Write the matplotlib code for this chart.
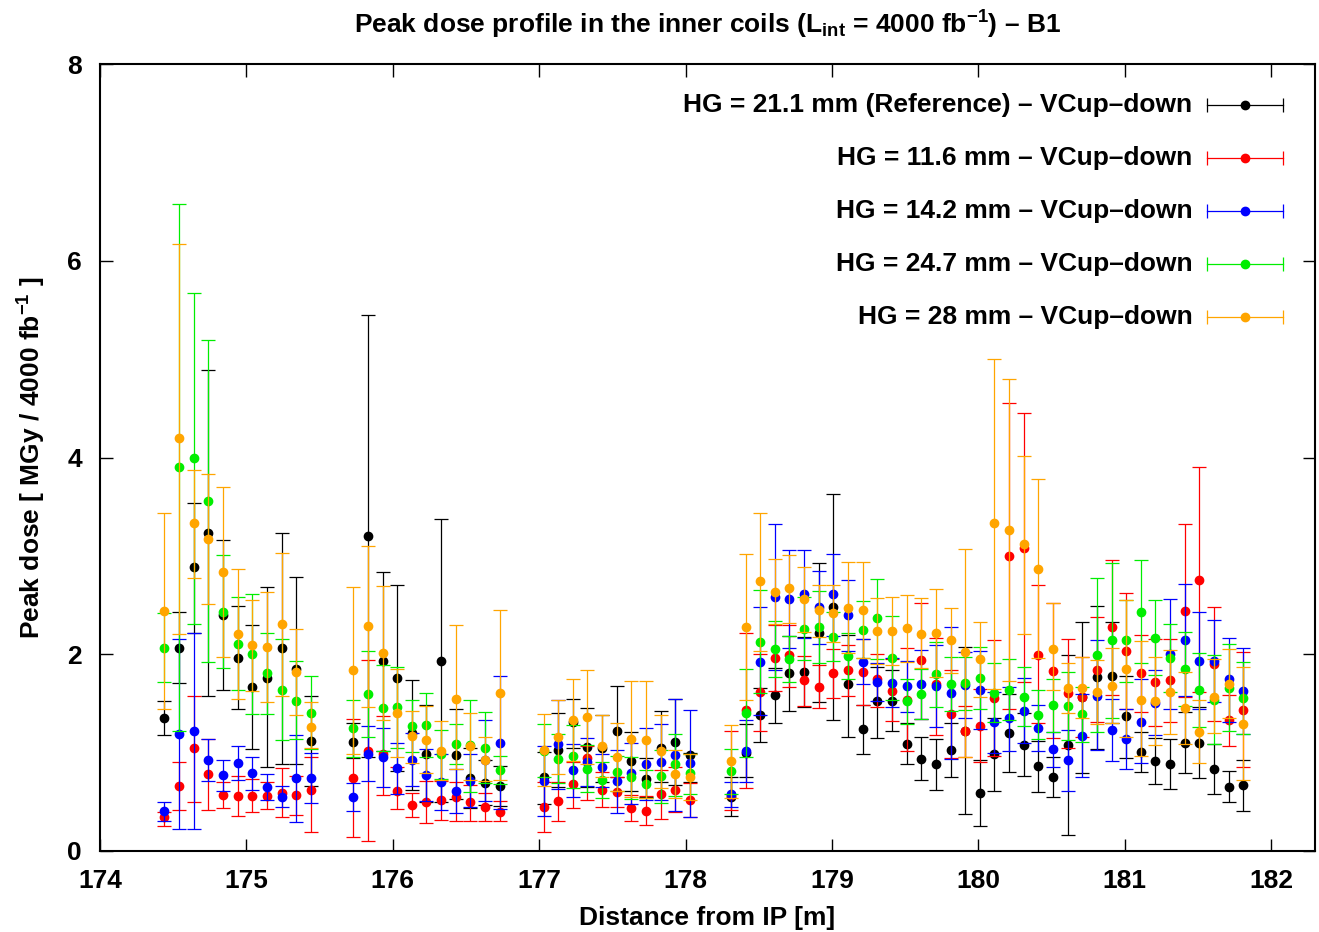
import numpy as np
import matplotlib
matplotlib.use("Agg")
import matplotlib.pyplot as plt

plt.rcParams['font.family'] = ['Liberation Sans', 'DejaVu Sans']
plt.rcParams['font.weight'] = 'bold'
plt.rcParams['mathtext.fontset'] = 'custom'
plt.rcParams['mathtext.rm'] = 'Liberation Sans:bold'
plt.rcParams['mathtext.bf'] = 'Liberation Sans:bold'
plt.rcParams['mathtext.it'] = 'Liberation Sans:bold'

# Distance from IP [m]
distance = [174.44, 174.54, 174.64, 174.74, 174.84, 174.94, 175.04, 175.14, 175.24, 175.34, 175.44,
            175.73, 175.83, 175.93, 176.03, 176.13, 176.23, 176.33, 176.43, 176.53, 176.63, 176.73,
            177.03, 177.13, 177.23, 177.33, 177.43, 177.53, 177.63, 177.73, 177.83, 177.93, 178.03,
            178.31, 178.41, 178.51, 178.61, 178.71, 178.81, 178.91, 179.01, 179.11, 179.21, 179.31, 179.41,
            179.51, 179.61, 179.71, 179.81, 179.91, 180.01, 180.11, 180.21, 180.31, 180.41, 180.51, 180.61,
            180.71, 180.81, 180.91, 181.01, 181.11, 181.21, 181.31, 181.41, 181.51, 181.61, 181.71, 181.81]

# HG = 21.1 mm (reference)
ref_val = [1.35, 2.06, 2.89, 3.23, 2.40, 1.96, 1.67, 1.76, 2.06, 1.85, 1.12,
           1.11, 3.20, 1.93, 1.76, 1.20, 0.99, 1.93, 0.98, 0.74, 0.69, 0.66,
           0.75, 1.03, 1.31, 1.06, 1.05, 1.22, 0.91, 0.73, 1.05, 1.11, 0.98,
           0.55, 1.00, 1.38, 1.59, 1.81, 1.82, 2.22, 2.48, 1.70, 1.24, 1.52, 1.52,
           1.09, 0.94, 0.88, 1.03, 1.22, 0.59, 0.99, 1.20, 1.08, 0.86, 0.75, 1.08,
           1.57, 1.77, 1.78, 1.37, 1.01, 0.91, 0.88, 1.10, 1.10, 0.83, 0.65, 0.67]
ref_lo = [1.18, 1.71, 2.22, 1.58, 1.64, 1.44, 1.04, 0.85, 0.88, 0.88, 0.66,
          0.95, 0.96, 1.02, 0.81, 0.62, 0.50, 0.50, 0.53, 0.44, 0.47, 0.46,
          0.48, 0.65, 1.05, 0.65, 0.70, 0.75, 0.61, 0.55, 0.70, 0.67, 0.70,
          0.36, 0.75, 1.11, 1.30, 1.42, 1.46, 1.51, 1.33, 1.16, 0.99, 1.15, 1.22,
          0.88, 0.72, 0.62, 0.75, 0.38, 0.25, 0.61, 0.80, 0.76, 0.60, 0.55, 0.16,
          0.79, 1.04, 1.30, 0.95, 0.80, 0.68, 0.63, 0.79, 0.74, 0.58, 0.50, 0.41]
ref_hi = [1.52, 2.43, 3.54, 4.89, 3.16, 2.49, 2.30, 2.68, 3.23, 2.79, 1.58,
          1.30, 5.45, 2.84, 2.70, 1.74, 1.48, 3.37, 1.44, 1.05, 0.92, 0.86,
          1.01, 1.40, 1.55, 1.45, 1.38, 1.68, 1.21, 0.95, 1.42, 1.55, 1.00,
          0.75, 1.29, 1.66, 1.86, 2.19, 2.18, 2.93, 3.63, 2.20, 1.48, 1.87, 1.84,
          1.30, 1.16, 1.14, 1.30, 2.07, 0.92, 1.35, 1.60, 1.40, 1.12, 0.96, 1.99,
          2.33, 2.49, 2.33, 1.78, 1.21, 1.15, 1.14, 1.41, 1.46, 1.09, 0.81, 0.93]

# HG = 11.6 mm
hg116_val = [0.35, 0.66, 1.05, 0.78, 0.57, 0.56, 0.56, 0.56, 0.59, 0.57, 0.62,
             0.74, 1.02, 0.99, 0.61, 0.47, 0.50, 0.52, 0.55, 0.50, 0.45, 0.40,
             0.45, 0.51, 0.68, 0.95, 0.62, 0.60, 0.44, 0.41, 0.58, 0.62, 0.52,
             0.57, 1.43, 1.62, 1.96, 1.99, 1.74, 1.67, 1.81, 1.84, 1.82, 1.75, 1.63,
             1.54, 1.94, 1.70, 1.39, 1.22, 1.27, 1.56, 3.00, 3.08, 1.99, 1.83, 1.61,
             1.57, 1.84, 2.28, 2.03, 1.81, 1.72, 1.74, 2.44, 2.75, 1.90, 1.33, 1.43]
hg116_lo = [0.25, 0.42, 0.50, 0.42, 0.44, 0.36, 0.40, 0.43, 0.35, 0.37, 0.19,
            0.14, 0.10, 0.57, 0.43, 0.35, 0.28, 0.32, 0.30, 0.31, 0.31, 0.30,
            0.19, 0.31, 0.44, 0.52, 0.45, 0.45, 0.30, 0.26, 0.33, 0.40, 0.35,
            0.42, 0.64, 1.22, 1.63, 1.67, 1.47, 1.45, 1.56, 1.58, 1.48, 1.46, 1.32,
            1.02, 1.34, 1.18, 0.95, 0.96, 0.90, 0.97, 1.44, 1.72, 1.30, 1.15, 1.05,
            1.16, 1.31, 1.59, 1.44, 1.41, 1.27, 1.31, 1.57, 1.62, 1.32, 1.07, 0.85]
hg116_hi = [0.40, 0.90, 1.58, 1.14, 0.70, 0.76, 0.73, 0.70, 0.84, 0.76, 0.96,
            1.34, 1.94, 1.37, 0.85, 0.59, 0.71, 0.71, 0.70, 0.67, 0.59, 0.51,
            0.70, 0.70, 0.90, 1.07, 0.80, 0.75, 0.57, 0.56, 0.82, 0.85, 0.69,
            1.22, 2.22, 2.00, 2.30, 2.30, 1.98, 1.89, 2.05, 2.09, 2.15, 2.00, 1.95,
            2.06, 2.52, 2.17, 1.84, 1.47, 1.65, 2.14, 4.55, 4.45, 2.70, 2.52, 2.16,
            1.97, 2.38, 2.96, 2.62, 2.20, 2.15, 2.16, 3.32, 3.90, 2.48, 1.59, 2.02]

# HG = 14.2 mm
hg142_val = [0.41, 1.19, 1.22, 0.92, 0.77, 0.89, 0.79, 0.65, 0.55, 0.74, 0.74,
             0.55, 0.99, 0.96, 0.84, 0.93, 0.77, 0.70, 0.61, 0.71, 0.92, 1.10,
             0.71, 1.09, 0.82, 0.90, 0.85, 0.71, 0.79, 0.88, 0.90, 0.98, 0.89,
             0.58, 1.02, 1.92, 2.58, 2.56, 2.61, 2.48, 2.61, 2.40, 1.92, 1.72, 1.71,
             1.68, 1.70, 1.68, 1.61, 1.69, 1.64, 1.31, 1.35, 1.42, 1.25, 1.04, 0.92,
             1.17, 1.58, 1.23, 1.14, 1.31, 1.50, 2.00, 2.14, 1.93, 1.93, 1.75, 1.63]
hg142_lo = [0.30, 0.22, 0.22, 0.71, 0.61, 0.72, 0.62, 0.52, 0.45, 0.29, 0.49,
            0.41, 0.71, 0.65, 0.58, 0.66, 0.51, 0.42, 0.39, 0.45, 0.51, 0.43,
            0.36, 0.63, 0.55, 0.66, 0.65, 0.39, 0.48, 0.52, 0.52, 0.41, 0.35,
            0.45, 0.70, 1.38, 1.84, 2.06, 2.17, 2.10, 2.19, 2.03, 1.70, 1.52, 1.46,
            1.41, 1.34, 1.26, 0.94, 1.35, 1.24, 1.00, 1.02, 1.10, 1.02, 0.85, 0.61,
            0.75, 1.03, 0.91, 0.83, 0.89, 1.18, 1.44, 1.58, 1.44, 1.51, 1.31, 1.19]
hg142_hi = [0.50, 2.16, 2.22, 1.14, 0.93, 1.07, 0.96, 0.78, 0.66, 1.18, 1.00,
            0.69, 1.27, 1.25, 1.10, 1.20, 1.04, 0.99, 0.83, 0.99, 1.33, 1.78,
            1.07, 1.54, 1.09, 1.15, 0.99, 1.03, 1.10, 1.25, 1.29, 1.55, 1.43,
            0.70, 1.33, 2.48, 3.32, 3.06, 3.06, 2.85, 3.02, 2.75, 2.15, 1.91, 1.96,
            1.93, 2.04, 2.09, 2.28, 2.02, 2.03, 1.62, 1.67, 1.76, 1.48, 1.21, 1.23,
            1.60, 2.14, 1.55, 1.44, 1.75, 1.84, 2.56, 2.71, 2.43, 2.35, 2.17, 2.06]

# HG = 24.7 mm
hg247_val = [2.06, 3.90, 3.99, 3.56, 2.43, 2.10, 2.00, 1.81, 1.64, 1.52, 1.40,
             1.25, 1.60, 1.45, 1.46, 1.27, 1.28, 0.99, 1.09, 1.08, 1.05, 0.82,
             1.02, 0.94, 0.97, 0.83, 0.72, 0.80, 0.75, 0.68, 0.76, 0.88, 0.79,
             0.81, 1.40, 2.12, 2.05, 1.95, 2.26, 2.28, 2.18, 1.98, 2.25, 2.37, 1.96,
             1.52, 1.60, 1.80, 1.70, 1.71, 1.76, 1.61, 1.64, 1.57, 1.38, 1.48, 1.47,
             1.39, 1.99, 2.14, 2.14, 2.43, 2.17, 1.96, 1.85, 1.64, 1.53, 1.66, 1.56]
hg247_lo = [1.72, 1.22, 2.31, 1.92, 1.86, 1.64, 1.39, 1.39, 1.13, 1.14, 1.04,
            0.96, 1.16, 1.02, 1.05, 1.01, 0.96, 0.73, 0.88, 0.60, 0.69, 0.68,
            0.75, 0.69, 0.64, 0.60, 0.54, 0.61, 0.53, 0.54, 0.49, 0.56, 0.58,
            0.58, 0.96, 1.61, 1.77, 1.72, 1.94, 1.91, 1.93, 1.75, 1.96, 1.95, 1.53,
            1.29, 1.34, 1.46, 1.42, 1.43, 1.44, 1.31, 1.33, 1.27, 1.14, 1.21, 1.13,
            1.11, 1.21, 1.35, 1.72, 1.91, 1.79, 1.62, 1.47, 1.26, 1.09, 1.22, 1.19]
hg247_hi = [2.42, 6.58, 5.67, 5.19, 3.01, 2.58, 2.61, 2.22, 2.15, 1.93, 1.78,
            1.54, 2.03, 1.89, 1.87, 1.54, 1.61, 1.23, 1.29, 1.54, 1.41, 0.97,
            1.29, 1.19, 1.28, 1.08, 0.90, 0.97, 0.96, 0.82, 1.03, 1.19, 0.99,
            1.04, 1.85, 2.65, 2.34, 2.19, 2.58, 2.64, 2.43, 2.22, 2.54, 2.76, 2.39,
            1.75, 1.85, 2.12, 1.97, 1.97, 2.07, 1.91, 1.95, 1.87, 1.64, 1.75, 1.82,
            1.67, 2.78, 2.93, 2.55, 2.96, 2.55, 2.31, 2.23, 2.01, 1.99, 2.10, 1.92]

# HG = 28 mm
hg28_val = [2.44, 4.20, 3.33, 3.17, 2.84, 2.21, 2.09, 2.07, 2.31, 1.82, 1.26,
            1.84, 2.29, 2.01, 1.40, 1.17, 1.13, 1.02, 1.55, 1.07, 0.93, 1.61,
            1.03, 1.16, 1.33, 1.36, 1.07, 0.96, 1.14, 1.13, 1.02, 0.78, 0.75,
            0.91, 2.28, 2.74, 2.63, 2.67, 2.56, 2.45, 2.42, 2.47, 2.45, 2.24, 2.24,
            2.27, 2.21, 2.22, 2.14, 2.02, 1.95, 3.33, 3.26, 3.12, 2.87, 2.05, 1.66,
            1.66, 1.62, 1.68, 1.85, 1.54, 1.52, 1.62, 1.45, 1.21, 1.57, 1.70, 1.29]
hg28_lo = [1.44, 2.21, 2.78, 2.51, 1.97, 1.55, 1.63, 1.51, 1.58, 1.38, 1.05,
           0.99, 1.46, 1.33, 0.96, 0.89, 0.79, 0.72, 0.83, 0.72, 0.71, 0.72,
           0.66, 0.78, 0.91, 0.88, 0.75, 0.61, 0.55, 0.54, 0.64, 0.54, 0.52,
           0.54, 1.53, 2.03, 2.31, 2.32, 2.23, 2.18, 2.12, 2.01, 1.96, 1.90, 1.89,
           1.92, 1.86, 1.77, 1.81, 0.96, 1.57, 1.65, 1.73, 2.21, 1.96, 1.64, 1.40,
           1.35, 1.29, 1.30, 1.16, 0.97, 1.08, 1.19, 1.09, 0.89, 1.20, 1.35, 0.72]
hg28_hi = [3.44, 6.17, 3.87, 3.83, 3.70, 2.87, 2.55, 2.63, 3.03, 2.26, 1.51,
           2.68, 3.10, 2.69, 1.85, 1.42, 1.47, 1.32, 2.30, 1.40, 1.16, 2.45,
           1.39, 1.53, 1.75, 1.84, 1.38, 1.30, 1.73, 1.73, 1.38, 1.03, 0.99,
           1.28, 3.02, 3.44, 2.97, 3.01, 2.89, 2.70, 2.70, 2.94, 2.94, 2.57, 2.58,
           2.60, 2.57, 2.66, 2.47, 3.07, 2.33, 5.00, 4.80, 4.02, 3.78, 2.52, 1.91,
           1.97, 1.94, 2.06, 2.55, 2.13, 1.97, 2.04, 1.82, 1.53, 1.95, 2.05, 1.87]

series = [
    ("HG = 21.1 mm (Reference) \u2013 VCup\u2013down", "black", ref_val, ref_lo, ref_hi),
    ("HG = 11.6 mm \u2013 VCup\u2013down", "#ff0000", hg116_val, hg116_lo, hg116_hi),
    ("HG = 14.2 mm \u2013 VCup\u2013down", "#0000ff", hg142_val, hg142_lo, hg142_hi),
    ("HG = 24.7 mm \u2013 VCup\u2013down", "#00ee00", hg247_val, hg247_lo, hg247_hi),
    ("HG = 28 mm \u2013 VCup\u2013down", "#ffa500", hg28_val, hg28_lo, hg28_hi),
]

fig = plt.figure(figsize=(13.19, 9.32), dpi=100)
ax = fig.add_axes([100 / 1319, 81 / 932, 1215 / 1319, 787 / 932])

x = np.array(distance)
for i, (label, color, val, lo, hi) in enumerate(series):
    val = np.array(val)
    yerr = np.vstack([val - np.array(lo), np.array(hi) - val])
    ax.errorbar(x, val, yerr=yerr, fmt='o', color=color, ms=6, mec=color,
                elinewidth=0.9, capsize=5, capthick=0.9, zorder=2 + i)

    # gnuplot-like key entry: text, then a horizontal error-bar sample
    ky = 0.948 - i * 0.0673
    ax.text(0.899, ky, label, transform=ax.transAxes, ha='right', va='center',
            fontsize=19, fontweight='bold')
    ax.plot([0.911, 0.974], [ky, ky], color=color, lw=0.9, transform=ax.transAxes)
    ax.plot([0.911, 0.974], [ky, ky], ls='none', marker='|', ms=10, mew=0.9,
            color=color, transform=ax.transAxes)
    ax.plot([0.9425], [ky], ls='none', marker='o', ms=6, color=color,
            transform=ax.transAxes)

ax.set_xlim(174, 182.3)
ax.set_ylim(0, 8)
ax.set_xticks(range(174, 183))
ax.set_yticks([0, 2, 4, 6, 8])
ax.tick_params(direction='in', length=9, width=1, top=True, right=True, labelsize=19)
ax.tick_params(axis='x', pad=13)
ax.tick_params(axis='y', pad=13)
for lab in ax.get_xticklabels() + ax.get_yticklabels():
    lab.set_fontweight('bold')
for sp in ax.spines.values():
    sp.set_linewidth(1.5)

ax.set_xlabel("Distance from IP [m]", fontsize=19, fontweight='bold', labelpad=9)
ax.set_ylabel(r"Peak dose [ MGy / 4000 fb$^{-1}$ ]", fontsize=19, fontweight='bold', labelpad=14)
ax.set_title("Peak dose profile in the inner coils (L$_{\\rm int}$ = 4000 fb$^{-1}$) \u2013 B1",
             fontsize=19, fontweight='bold', pad=22)

fig.savefig("out.png", dpi=100)
